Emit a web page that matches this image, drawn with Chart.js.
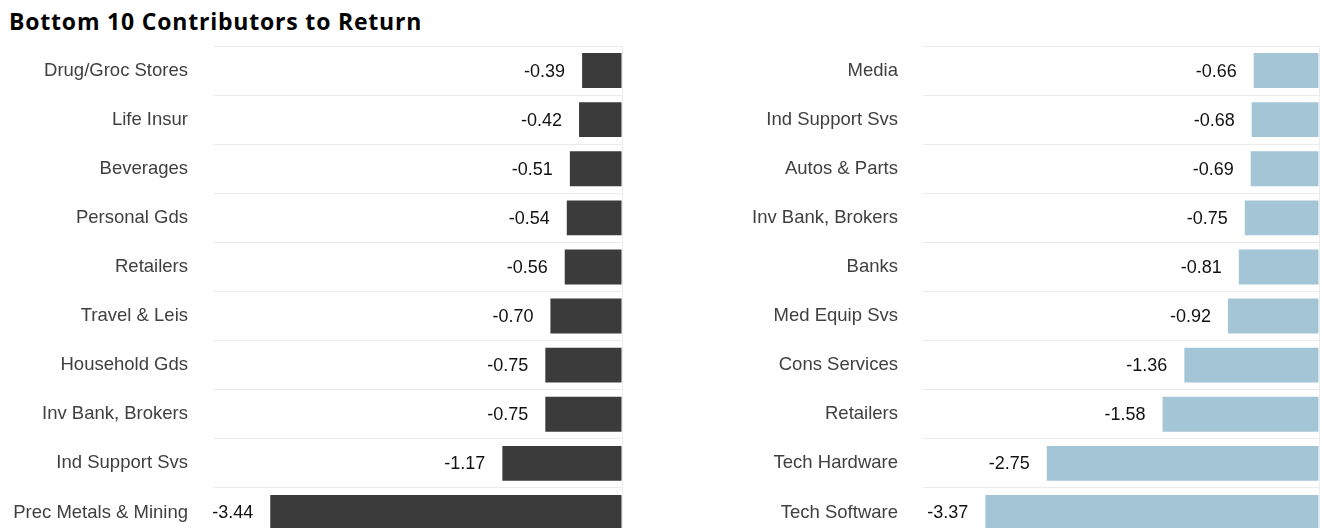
<!DOCTYPE html>
<html>
<head>
<meta charset="utf-8">
<script src="https://cdn.jsdelivr.net/npm/chart.js@4/dist/chart.umd.min.js"></script>
<style>
  html, body { margin: 0; padding: 0; background: #fff; overflow: hidden; }
  body { width: 1322px; height: 528px; position: relative; }
  #title {
    position: absolute; left: 9px; top: 10px;
    font-family: "Open Sans", sans-serif; font-weight: 700; font-size: 23px;
    letter-spacing: 0.8px;
    line-height: 1; color: #000; white-space: nowrap;
  }
  .box { position: absolute; top: 40px; height: 500px; }
  #leftBox { left: 0; width: 640px; }
  #rightBox { left: 640px; width: 682px; }
</style>
</head>
<body>
<div id="title">Bottom 10 Contributors to Return</div>
<div class="box" id="leftBox"><canvas id="leftChart"></canvas></div>
<div class="box" id="rightBox"><canvas id="rightChart"></canvas></div>
<script>
// datos de cada panel
var leftCategories = ["Drug/Groc Stores", "Life Insur", "Beverages", "Personal Gds", "Retailers",
  "Travel & Leis", "Household Gds", "Inv Bank, Brokers", "Ind Support Svs", "Prec Metals & Mining"];
var leftValues = [-0.39, -0.42, -0.51, -0.54, -0.56, -0.70, -0.75, -0.75, -1.17, -3.44];

var rightCategories = ["Media", "Ind Support Svs", "Autos & Parts", "Inv Bank, Brokers", "Banks",
  "Med Equip Svs", "Cons Services", "Retailers", "Tech Hardware", "Tech Software"];
var rightValues = [-0.66, -0.68, -0.69, -0.75, -0.81, -0.92, -1.36, -1.58, -2.75, -3.37];

var axisMin = -4;
var axisMax = 0;

var fontFamily = "'Liberation Sans', Arial, sans-serif";

// etiqueta de valor a la izquierda de cada barra
var valueLabels = {
  id: "valueLabels",
  afterDatasetsDraw: function (chart) {
    var ctx = chart.ctx;
    var meta = chart.getDatasetMeta(0);
    var values = chart.data.datasets[0].data;
    ctx.save();
    ctx.font = "18px " + fontFamily;
    ctx.fillStyle = "#111111";
    ctx.textAlign = "right";
    ctx.textBaseline = "middle";
    meta.data.forEach(function (bar, i) {
      ctx.fillText(values[i].toFixed(2), bar.x - 17, bar.y + 1);
    });
    ctx.restore();
  }
};

function makeChart(id, labels, values, color, labelWidth, padRight) {
  var ctx = document.getElementById(id).getContext("2d");
  return new Chart(ctx, {
    type: "bar",
    data: {
      labels: labels,
      datasets: [{
        data: values,
        backgroundColor: color,
        borderWidth: 0,
        barPercentage: 0.71,
        categoryPercentage: 1
      }]
    },
    options: {
      indexAxis: "y",
      responsive: true,
      maintainAspectRatio: false,
      animation: false,
      layout: { padding: { top: 6, right: padRight, bottom: 3, left: 0 } },
      plugins: {
        legend: { display: false },
        tooltip: { enabled: false }
      },
      scales: {
        x: {
          min: axisMin,
          max: axisMax,
          ticks: { display: false },
          border: { display: false },
          grid: {
            drawTicks: false,
            color: function (c) { return c.tick && c.tick.value === 0 ? "#ececec" : "rgba(0,0,0,0)"; }
          },
          afterFit: function (scale) { scale.height = 0; }
        },
        y: {
          border: { display: false },
          grid: { color: "#ebebeb", drawTicks: false, offset: true },
          ticks: {
            color: "#404040",
            padding: 25,
            font: { family: fontFamily, size: 18.5 }
          },
          afterFit: function (scale) {
            scale.width = labelWidth;
            scale.paddingTop = 0;
            scale.paddingBottom = 0;
          }
        }
      }
    },
    plugins: [valueLabels]
  });
}

makeChart("leftChart", leftCategories, leftValues, "#3b3b3b", 213, 18);
makeChart("rightChart", rightCategories, rightValues, "#a3c5d6", 283, 3);
</script>
</body>
</html>
